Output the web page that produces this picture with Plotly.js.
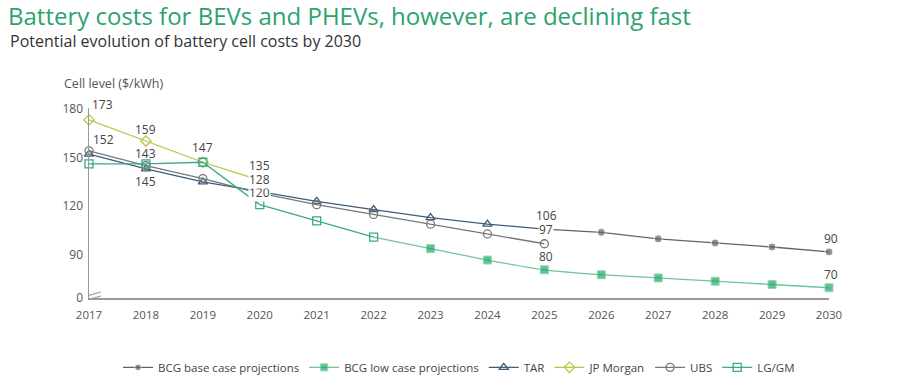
<!DOCTYPE html>
<html>
<head>
<meta charset="utf-8">
<script src="https://cdn.plot.ly/plotly-3.0.1.min.js"></script>
<style>html,body{margin:0;padding:0;background:#fff;}#chart{width:900px;height:380px;}</style>
</head>
<body>
<div id="chart"></div>
<script>
// ---- data ----
const years = [2017,2018,2019,2020,2021,2022,2023,2024,2025,2026,2027,2028,2029,2030];

const baseYears = [2025,2026,2027,2028,2029,2030];
const baseCase  = [106,104,100,97.5,95,92];

const lowYears  = [2022,2023,2024,2025,2026,2027,2028,2029,2030];
const lowCase   = [101,94,87,81,78,76,74,72,70];

const tarYears  = [2017,2018,2019,2020,2021,2022,2023,2024,2025];
const tar       = [152,143,135,129,123,118,113,109,106];

const jpYears   = [2017,2018,2019,2020];
const jpMorgan  = [173,160,147,136];

const ubsYears  = [2017,2018,2019,2020,2021,2022,2023,2024,2025];
const ubs       = [154,145,137,128,121,115,109,103,97];

const lgYears   = [2017,2018,2019,2020,2021,2022];
const lgGm      = [146,146,147,121,111,101];

const yTickVals = [63.7,90,120,150,180];
const yTickText = ['0','90','120','150','180'];

const labelX    = [2017,2017,2018,2018,2018,2019,2020,2020,2020,2025,2025,2025,2030,2030];
const labelY    = [173,154,160,146,143,147,121,128,136,106,97,81,92,70];
const labelText = ['173','152','159','143','145','147','120','128','135','106','97','80','90','70'];

// ---- styles ----
const labelDx = [13,14,0,0,0,0,0,0,0,2,2,2,2,2];
const labelDy = [15,11,12,10,-13,15,12,14,15,14,14,13,13,13];
const labelBg = [null,null,null,null,null,null,'#fff','#fff',null,null,'#fff',null,null,null];

const cBase = '#626366', cLowM = '#1ea865', cLowL = '#6cc79b', cTar = '#3f5b78',
      cJp = '#b9c64a', cUbs = '#76777a', cLg = '#3aab85';

const traces = [
  {name:'BCG base case projections', x: baseYears, y: baseCase, mode:'lines+markers',
   line:{color:cBase,width:1.3}, marker:{symbol:'circle', size: baseYears.map((_,i)=>i===0?0:8), color:cBase}, cliponaxis:false},
  {name:'BCG low case projections', x: lowYears, y: lowCase, mode:'lines+markers',
   line:{color:cLowL,width:1.3, shape:'spline', smoothing:0.3}, marker:{symbol:'square', size: lowYears.map((_,i)=>i===0?0:8), color:cLowM}, cliponaxis:false},
  {name:'TAR', x: tarYears, y: tar, mode:'lines+markers',
   line:{color:cTar,width:1.3}, marker:{symbol:'triangle-up-open', size:8, color:cTar, line:{width:1.3}}, cliponaxis:false},
  {name:'JP Morgan', x: jpYears, y: jpMorgan, mode:'lines+markers',
   line:{color:cJp,width:1.3}, marker:{symbol:'diamond-open', size:8, color:cJp, line:{width:1.3}}, cliponaxis:false},
  {name:'UBS', x: ubsYears, y: ubs, mode:'lines+markers',
   line:{color:cUbs,width:1.3}, marker:{symbol:'circle-open', size:8, color:cUbs, line:{width:1.3}}, cliponaxis:false},
  {name:'LG/GM', x: lgYears, y: lgGm, mode:'lines+markers',
   line:{color:cLg,width:1.3}, marker:{symbol:'square-open', size:8, color:cLg, line:{width:1.3}}, cliponaxis:false}
];

const annotations = labelText.map((t,i)=>({
  x: labelX[i], y: labelY[i], xref:'x', yref:'y', text: t, showarrow:false,
  xshift: labelDx[i], yshift: labelDy[i], font:{family:'Open Sans', size:12, color:'#444'},
  bgcolor: labelBg[i] || 'rgba(0,0,0,0)', borderpad: 0
}));

annotations.push({xref:'paper', yref:'paper', x:-0.1095, y:(298-41)/190, xanchor:'left', yanchor:'middle',
  text:'Potential evolution of battery cell costs by 2030', showarrow:false,
  font:{family:'Open Sans', size:16, color:'#333'}});
annotations.push({xref:'paper', yref:'paper', x:-0.036, y:(298-83)/190, xanchor:'left', yanchor:'middle',
  text:'Cell level ($/kWh)', showarrow:false, font:{family:'Open Sans', size:12.5, color:'#555'}});

const layout = {
  width:900, height:380,
  margin:{l:89, r:71, t:108, b:82, autoexpand:false},
  paper_bgcolor:'#fff', plot_bgcolor:'#fff',
  title:{text:'Battery costs for BEVs and PHEVs, however, are declining fast',
         x:8/900, xref:'container', xanchor:'left', y:1-17/380, yref:'container', yanchor:'middle',
         font:{family:'Open Sans', size:24, color:'#2ca36d'}},
  xaxis:{range:[2017,2030], tickvals: years, ticktext: years.map(String), showgrid:false, zeroline:false,
         showline:true, linecolor:'#9a9a9a', linewidth:1.5, ticks:'', ticklabelstandoff:6,
         tickfont:{family:'Open Sans', size:11.5, color:'#555'}},
  yaxis:{range:[63.7,180.3], tickvals: yTickVals, ticktext: yTickText, showgrid:false, zeroline:false,
         showline:true, linecolor:'#9a9a9a', linewidth:1.5, ticks:'', ticklabelstandoff:2,
         tickfont:{family:'Open Sans', size:12, color:'#555'}},
  showlegend:true,
  legend:{orientation:'h', x:0.5, xanchor:'center', y:-0.365, yanchor:'middle',
          font:{family:'Open Sans', size:11.5, color:'#444'}, itemwidth:30, tracegroupgap:0},
  annotations: annotations,
  shapes:[
    {type:'line', xref:'x', yref:'y', xsizemode:'pixel', ysizemode:'pixel', xanchor:2017, yanchor:63.7,
     x0:-2, x1:12, y0:2, y1:6, line:{color:'#9a9a9a', width:1.2}},
    {type:'line', xref:'x', yref:'y', xsizemode:'pixel', ysizemode:'pixel', xanchor:2017, yanchor:63.7,
     x0:-2, x1:12, y0:-2, y1:2, line:{color:'#9a9a9a', width:1.2}}
  ]
};

Plotly.newPlot('chart', traces, layout, {displayModeBar:false, staticPlot:true});
</script>
</body>
</html>
